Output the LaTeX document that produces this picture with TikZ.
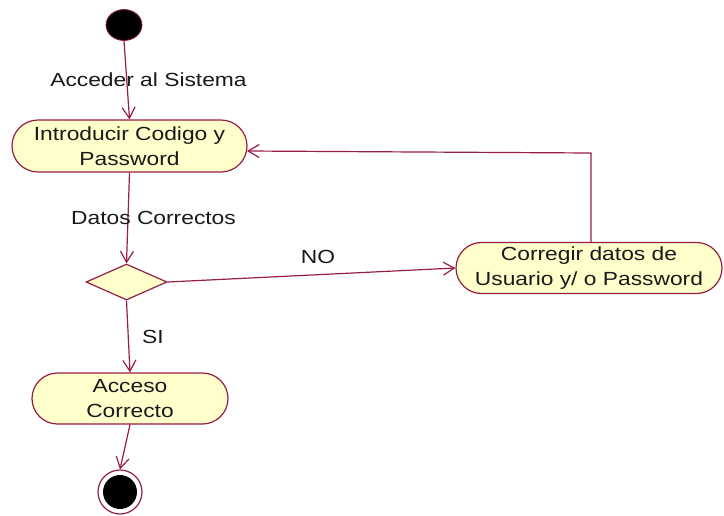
\documentclass[tikz,border=0pt]{standalone}
\usepackage{fontspec}
\setmainfont[FakeStretch=1.2]{Liberation Sans}
\usetikzlibrary{shapes.misc,shapes.geometric,arrows.meta}
\definecolor{umlline}{RGB}{150,30,70}
\definecolor{umlfill}{RGB}{255,255,204}
\definecolor{umltext}{RGB}{25,25,25}
\tikzset{
  activity/.style={rounded rectangle, draw=umlline, fill=umlfill, line width=1.2pt,
    inner sep=0pt, align=center, text=umltext, font=\fontsize{19}{25}\selectfont},
  decision/.style={diamond, draw=umlline, fill=umlfill, line width=1.2pt, inner sep=0pt,
    minimum width=81pt, minimum height=36pt, aspect=2.2},
  flow/.style={draw=umlline, line width=1.2pt, -{Straight Barb[length=11pt,width=13pt,line width=1.2pt]}},
  lbl/.style={text=umltext, font=\fontsize{19}{21}\selectfont, inner sep=0pt}
}
\begin{document}
\begin{tikzpicture}[x=1pt,y=-1pt]
\useasboundingbox (0,0) rectangle (724,515);
% start
\node[ellipse, fill=black, draw=umlline, line width=0.8pt, minimum width=36pt, minimum height=31pt, inner sep=0pt] (start) at (124,25) {};
% activities
\node[activity, minimum width=235pt, minimum height=52pt] (intro) at (129.5,146) {Introducir Codigo y\\Password};
\node[decision] (dec) at (126.5,282) {};
\node[activity, minimum width=266pt, minimum height=51pt] (corr) at (589,268) {Corregir datos de\\Usuario y/ o Password};
\node[activity, minimum width=196pt, minimum height=51pt] (acc) at (130,398.5) {Acceso\\Correcto};
% end
\node[circle, draw=umlline, line width=1.2pt, minimum size=44pt, inner sep=0pt] (fin) at (120,492) {};
\node[circle, fill=black, minimum size=34pt, inner sep=0pt] (finin) at (120,492) {};
% coordinates
\coordinate (turn) at (591,153);
\coordinate (ret) at (247,151);
% flows
\draw[flow] (start.south) -- (intro.north);
\draw[flow] (intro.south) -- (dec.north);
\draw[flow] (dec.south) -- (acc.north);
\draw[flow] (acc.south) -- (fin.north);
\draw[flow] (dec.east) -- (corr.west);
\draw[flow] (corr.north -| turn) -- (turn) -- (ret);
% labels
\node[lbl] (l1) at (148.5,80) {Acceder al Sistema};
\node[lbl] (l2) at (153.5,218) {Datos Correctos};
\node[lbl] (l3) at (318,257) {NO};
\node[lbl] (l4) at (153,337) {SI};
\end{tikzpicture}
\end{document}
